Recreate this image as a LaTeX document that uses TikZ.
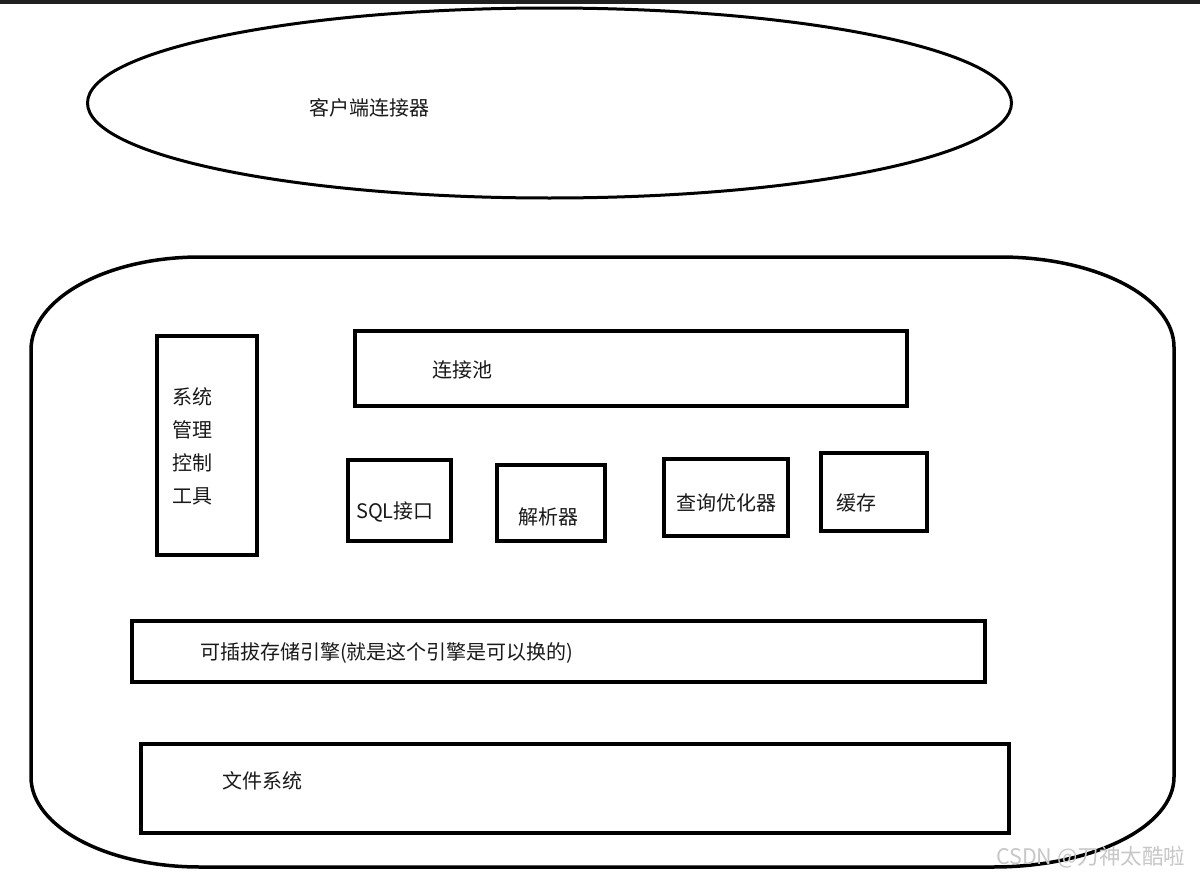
\documentclass[tikz,border=0pt]{standalone}
\usepackage{fontspec}
\setmainfont{Noto Sans CJK SC}
\newfontfamily\cjk{Noto Sans CJK SC}
\usetikzlibrary{shapes.geometric}
\begin{document}
\begin{tikzpicture}[x=1pt,y=-1pt,
  box/.style={draw=black, line width=4pt, rectangle, inner sep=0pt},
  lbl/.style={inner sep=0pt, anchor=west, font=\cjk\fontsize{20}{24}\selectfont, text=black!90},
  outline/.style={draw=black, line width=3.5pt}]
\useasboundingbox (0,0) rectangle (1200,878);
\fill[white] (0,0) rectangle (1200,878);
\fill[black!87] (0,0) rectangle (1200,3.5);
% client ellipse
\node[ellipse, outline, line width=3pt, minimum width=924pt, minimum height=190pt, inner sep=0pt] (client) at (549.5,103) {};
\node[lbl] (clientt) at (309,108) {客户端连接器};
% server outline
\draw[outline] (31,350) .. controls (31,298.6) and (106.7,257) .. (200,257)
  -- (1000,257) .. controls (1096.1,257) and (1174,297.3) .. (1174,347)
  -- (1174,777) .. controls (1174,826.7) and (1093,867) .. (993,867)
  -- (200,867) .. controls (106.7,867) and (31,826.7) .. (31,777)
  -- cycle;
% boxes
\node[box, minimum width=100pt, minimum height=219pt] (sys) at (207,445.5) {};
\node[lbl, anchor=center, align=left, font=\cjk\fontsize{20}{33}\selectfont] (syst) at (192,446) {系统\\管理\\控制\\工具};
\node[box, minimum width=552pt, minimum height=75pt] (pool) at (631,368.5) {};
\node[lbl] (poolt) at (432,370) {连接池};
\node[box, minimum width=103pt, minimum height=81pt] (sql) at (399.5,500.5) {};
\node[lbl] (sqlt) at (356,512) {SQL接口};
\node[box, minimum width=108pt, minimum height=76pt] (parser) at (551,503) {};
\node[lbl] (parsert) at (518,517) {解析器};
\node[box, minimum width=124pt, minimum height=77pt] (opt) at (726,497.5) {};
\node[lbl] (optt) at (676,503) {查询优化器};
\node[box, minimum width=106pt, minimum height=78pt] (cache) at (874,492) {};
\node[lbl] (cachet) at (836,503) {缓存};
\node[box, minimum width=853pt, minimum height=61pt] (engine) at (558.5,651.5) {};
\node[lbl] (enginet) at (200,653) {可插拔存储引擎(就是这个引擎是可以换的)};
\node[box, minimum width=868pt, minimum height=89pt] (fs) at (575,788.5) {};
\node[lbl] (fst) at (222,781) {文件系统};
% watermark
\node[inner sep=0pt, anchor=west, font=\cjk\fontsize{21.5}{24}\selectfont, text=black!22] (wm) at (996,857) {CSDN @刀神太酷啦};
\end{tikzpicture}
\end{document}
